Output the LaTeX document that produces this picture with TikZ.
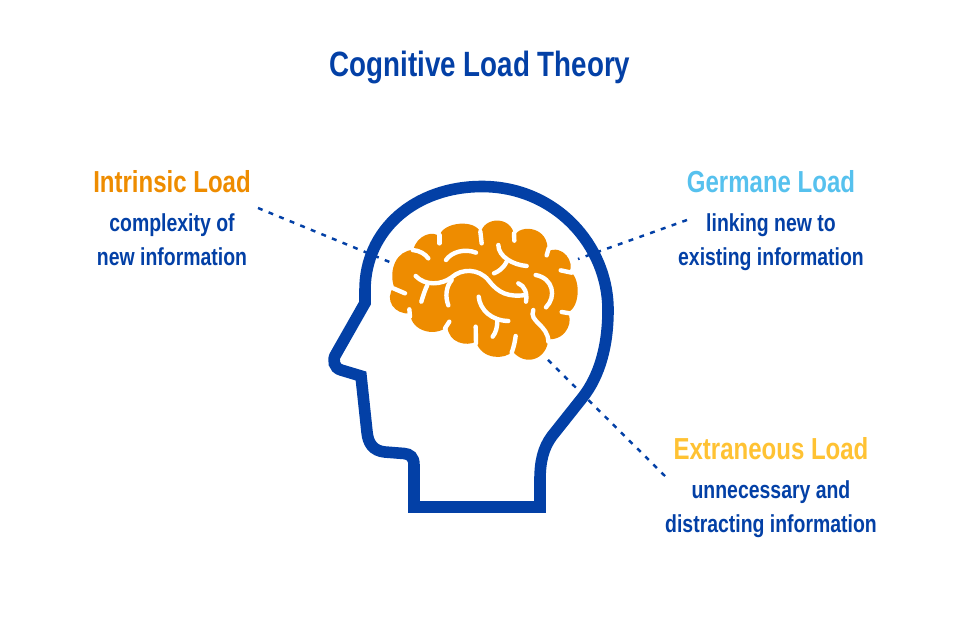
\documentclass[tikz,border=0pt]{standalone}
\usepackage{fontspec}
\setmainfont[FakeStretch=0.79,UprightFont=* Bold]{Liberation Sans}
\definecolor{headblue}{HTML}{0340A6}
\definecolor{brainorange}{HTML}{EE8C00}
\definecolor{germaneblue}{HTML}{56C1EE}
\definecolor{extrayellow}{HTML}{FFC233}
\tikzset{
    loadtitle/.style={font=\fontsize{17.3}{20}\selectfont, inner sep=0pt},
    loadtext/.style={font=\fontsize{14}{19.3}\selectfont, text=headblue, align=center, inner sep=0pt},
    pointer/.style={headblue, line width=1.4pt, dash pattern=on 2.8pt off 3.7pt},
    fold/.style={white, line width=2.5pt, line cap=round},
}
\begin{document}
\begin{tikzpicture}[x=0.02cm, y=-0.02cm]
    \useasboundingbox (0, 0) rectangle (960, 640);

    \node[font=\fontsize{20}{24}\selectfont, text=headblue, inner sep=0pt] (title) at (480, 67.5) {Cognitive Load Theory};

    % Labels
    \node[loadtitle, text=brainorange] (intrinsic) at (172, 182) {Intrinsic Load};
    \node[loadtext] (intrinsictext) at (172, 241.5) {\strut complexity of\\\strut new information};
    \node[loadtitle, text=germaneblue] (germane) at (771, 182) {Germane Load};
    \node[loadtext] (germanetext) at (771, 241.5) {\strut linking new to\\\strut existing information};
    \node[loadtitle, text=extrayellow] (extraneous) at (771, 449) {Extraneous Load};
    \node[loadtext] (extraneoustext) at (771, 508.5) {\strut unnecessary and\\\strut distracting information};

    % Pointers
    \coordinate (intrinsicfrom) at (258, 208);
    \coordinate (intrinsicto) at (392, 263);
    \coordinate (germanefrom) at (687, 220);
    \coordinate (germaneto) at (578, 259);
    \coordinate (extraneousfrom) at (665, 476);
    \coordinate (extraneousto) at (545, 357);
    \draw[pointer] (intrinsicfrom) -- (intrinsicto);
    \draw[pointer] (germanefrom) -- (germaneto);
    \draw[pointer] (extraneousfrom) -- (extraneousto);

    % Head
    \draw[headblue, line width=6.6pt, miter limit=4] (365, 303) -- (365, 290)
        .. controls (365, 230) and (415, 186.5) .. (482, 186.5)
        .. controls (555, 186.5) and (608, 245) .. (608, 310)
        .. controls (608, 345) and (600, 375) .. (583, 397) -- (552, 436)
        .. controls (543, 448) and (540, 462) .. (540, 480) -- (540, 507) -- (414, 507) -- (414, 465)
        .. controls (414, 457) and (410, 454) .. (404, 453.5) -- (385, 452)
        .. controls (373, 451) and (368, 443) .. (367, 432) -- (361, 376) -- (341, 370)
        .. controls (334, 368) and (332, 360) .. (336, 354) -- cycle;

    % Brain, in pixels of the crop
    \begin{scope}[shift={(370, 200)}, x=0.00667cm, y=-0.00667cm]
    \fill[brainorange] (130, 150)
        .. controls (140, 105) and (190, 90) .. (208, 110)
        .. controls (215, 65) and (320, 55) .. (332, 100)
        .. controls (340, 50) and (425, 45) .. (433, 108)
        .. controls (450, 70) and (540, 80) .. (532, 155)
        .. controls (580, 130) and (615, 190) .. (598, 215)
        .. controls (630, 225) and (635, 320) .. (592, 338)
        .. controls (610, 355) and (595, 420) .. (535, 418)
        .. controls (530, 480) and (465, 500) .. (428, 454)
        .. controls (405, 480) and (335, 480) .. (318, 425)
        .. controls (290, 440) and (235, 430) .. (232, 378)
        .. controls (205, 410) and (125, 400) .. (120, 340)
        .. controls (75, 345) and (40, 300) .. (72, 260)
        .. controls (55, 210) and (80, 150) .. (130, 150) -- cycle;
    % Folds
    \draw[fold] (128, 150) .. controls (150, 152) and (165, 162) .. (175, 175);
    \draw[fold] (228, 180) .. controls (245, 155) and (285, 145) .. (318, 158);
    \draw[fold] (208, 130) -- (208, 105);
    \draw[fold] (335, 130) -- (331, 95);
    \draw[fold] (433, 122) -- (432, 100);
    \draw[fold] (385, 135) .. controls (385, 170) and (430, 195) .. (470, 198);
    \draw[fold] (410, 185) .. controls (400, 205) and (385, 215) .. (372, 220);
    \draw[fold] (137, 228) .. controls (165, 258) and (215, 255) .. (245, 232)
        .. controls (275, 205) and (325, 205) .. (355, 240)
        .. controls (385, 280) and (415, 292) .. (468, 285);
    \draw[fold] (445, 250) .. controls (465, 258) and (472, 280) .. (468, 305);
    \draw[fold] (172, 255) .. controls (165, 270) and (160, 285) .. (154, 305);
    \draw[fold] (245, 240) .. controls (228, 260) and (225, 290) .. (235, 316);
    \draw[fold] (326, 290) .. controls (330, 330) and (365, 362) .. (415, 363);
    \draw[fold] (382, 362) .. controls (382, 380) and (378, 398) .. (368, 410);
    \draw[fold] (490, 330) .. controls (475, 365) and (535, 375) .. (535, 425);
    \draw[fold] (497, 225) .. controls (550, 235) and (560, 290) .. (528, 322);
    \draw[fold] (572, 211) -- (605, 218);
    \draw[fold] (575, 336) -- (600, 340);
    \draw[fold] (530, 166) -- (536, 145);
    \draw[fold] (70, 265) -- (105, 280);
    \draw[fold] (118, 328) -- (120, 350);
    \draw[fold] (238, 365) -- (225, 385);
    \draw[fold] (317, 380) -- (318, 430);
    \draw[fold] (437, 408) .. controls (435, 425) and (431, 442) .. (425, 458);
    \end{scope}
\end{tikzpicture}
\end{document}
